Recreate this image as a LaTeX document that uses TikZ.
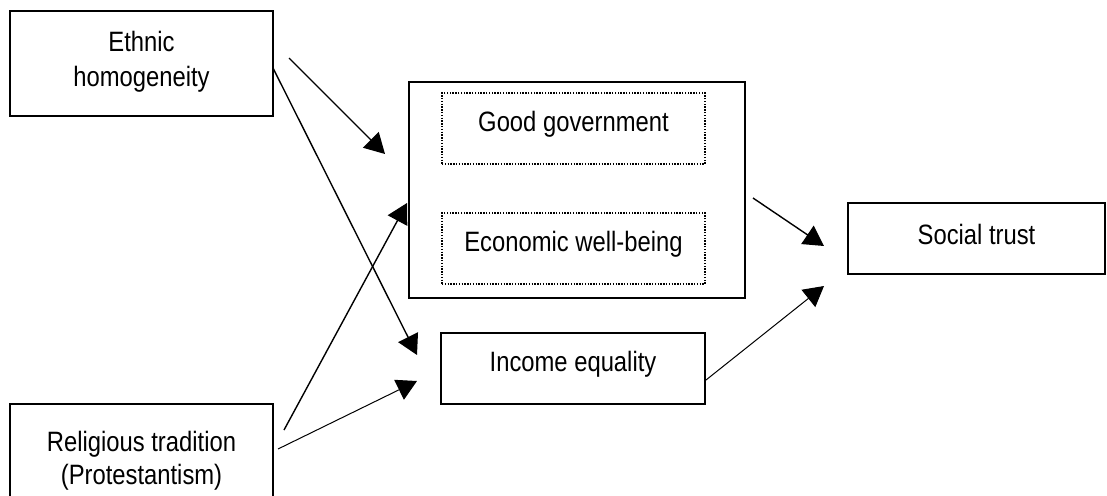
\documentclass[tikz,border=0pt]{standalone}
\usepackage{fontspec}
\setmainfont{Liberation Sans}[FakeStretch=0.85]
\usetikzlibrary{arrows.meta}
\begin{document}
\begin{tikzpicture}[x=1pt,y=-1pt,
  txt/.style={font=\fontsize{28}{35}\selectfont,align=center},
  box/.style={draw,line width=1.6pt,rectangle,inner sep=0pt,txt},
  dotbox/.style={draw,line width=1.4pt,dash pattern=on 1.4pt off 1.4pt,rectangle,inner sep=0pt,txt},
  upl/.style={label={[txt,yshift=4pt]center:#1}},
  arr/.style={-{Triangle[length=20pt,width=22pt]},line width=1.4pt},
  thinarr/.style={-{Triangle[length=20pt,width=22pt]},line width=1pt}]
\useasboundingbox (0,0) rectangle (1107,495);
\begin{scope}
\clip (0,0) rectangle (1107,495);
\node[box,minimum width=263pt,minimum height=105pt] (eth) at (141.5,63.5) {};
\node[txt] (ethtxt) at (141.5,62) {Ethnic\\homogeneity};
\node[box,minimum width=263pt,minimum height=110pt] (rel) at (141.5,459) {};
\node[txt,font=\fontsize{28}{33}\selectfont] (reltxt) at (141.5,461) {Religious tradition\\(Protestantism)};
\node[box,minimum width=336pt,minimum height=216pt] (big) at (577,190) {};
\node[dotbox,minimum width=263pt,minimum height=71pt,upl={Good government}] (gg) at (573.5,128.5) {};
\node[dotbox,minimum width=263pt,minimum height=71pt,upl={Economic well-being}] (eco) at (573.5,248.5) {};
\node[box,minimum width=264pt,minimum height=71pt,upl={Income equality}] (inc) at (573,368.5) {};
\node[box,minimum width=257pt,minimum height=71pt,upl={Social trust}] (soc) at (976.5,238.5) {};
\end{scope}
\coordinate (a1s) at (289,58);  \coordinate (a1e) at (385,154);
\coordinate (a2s) at (273,68);  \coordinate (a2e) at (417,355);
\coordinate (a3s) at (284,430); \coordinate (a3e) at (407,203);
\coordinate (a4s) at (278,449); \coordinate (a4e) at (417,381);
\coordinate (a5s) at (753,198); \coordinate (a5e) at (824,246);
\coordinate (a6s) at (706,380); \coordinate (a6e) at (824,286);
\draw[arr] (a1s) -- (a1e);
\draw[arr] (a2s) -- (a2e);
\draw[arr] (a3s) -- (a3e);
\draw[thinarr] (a4s) -- (a4e);
\draw[arr] (a5s) -- (a5e);
\draw[thinarr] (a6s) -- (a6e);
\end{tikzpicture}
\end{document}
